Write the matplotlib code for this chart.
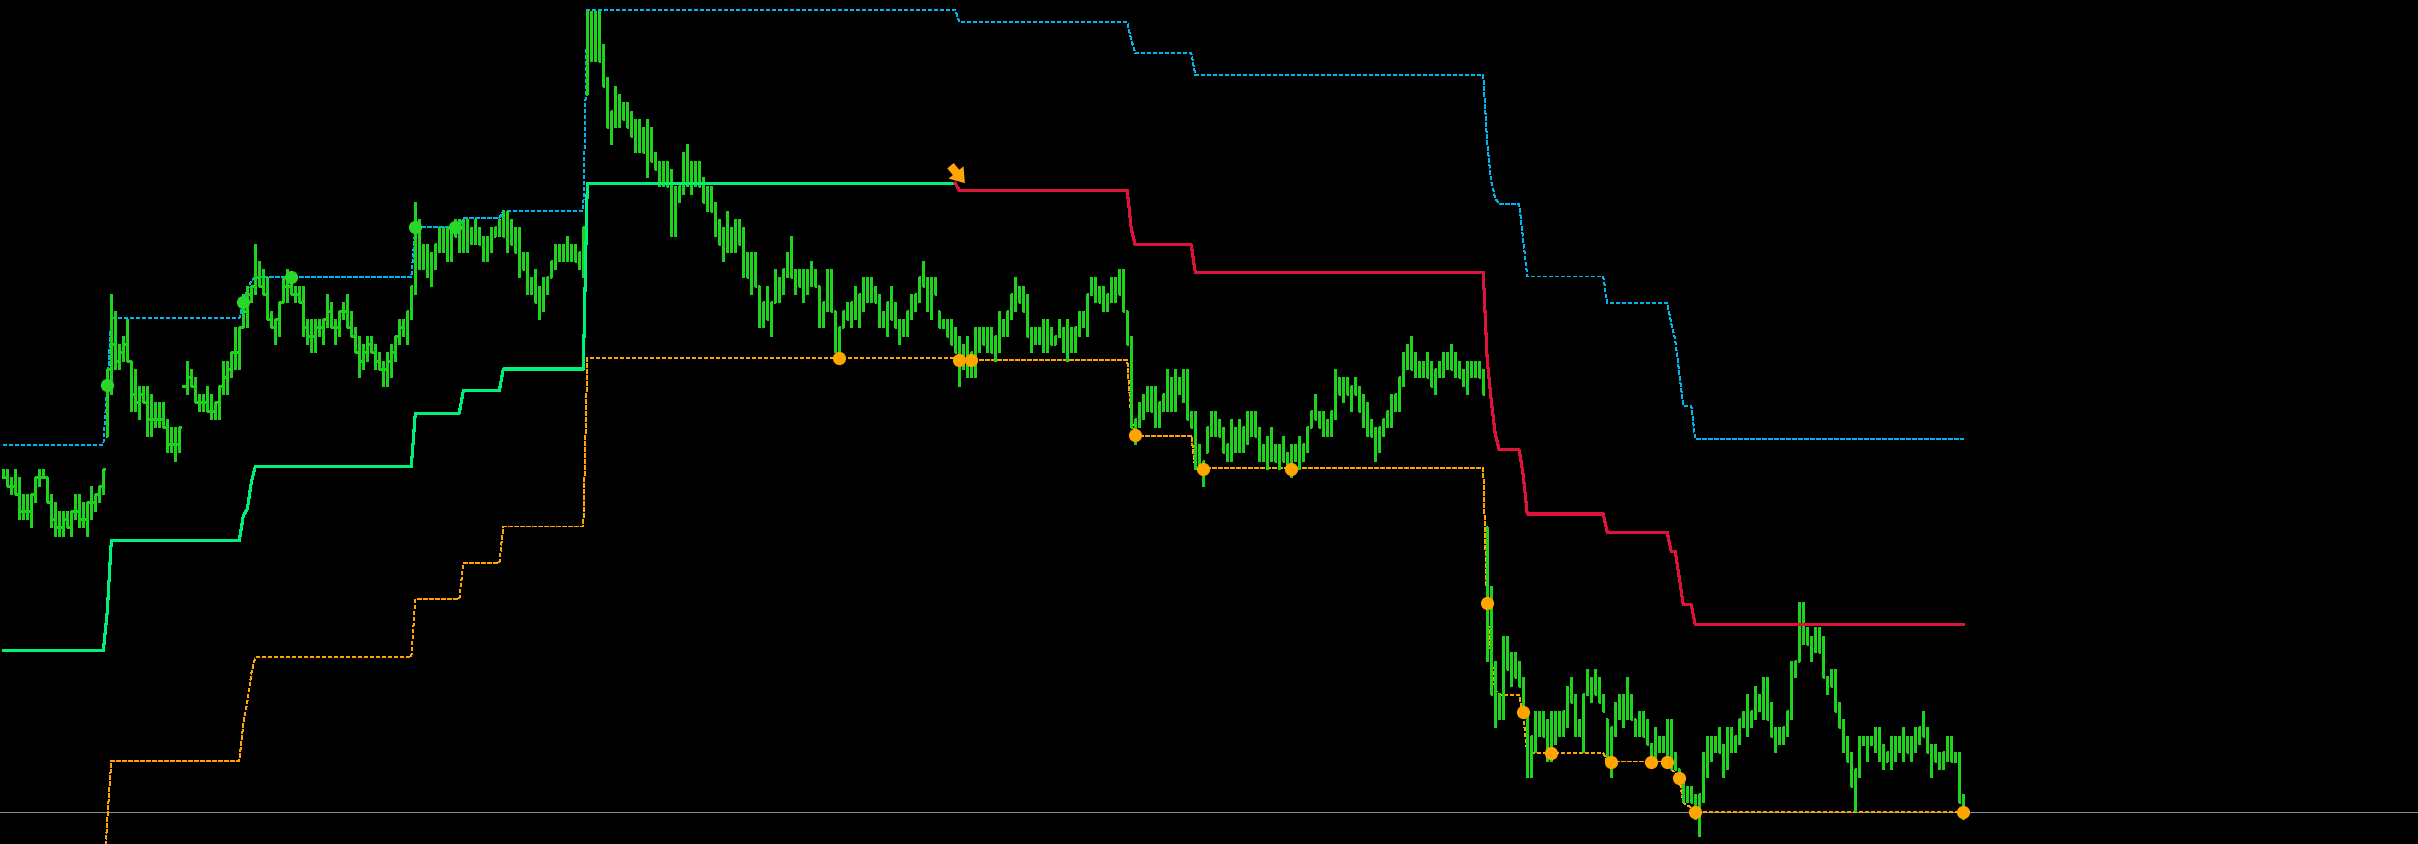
import numpy as np
import matplotlib
matplotlib.use("Agg")
import matplotlib.pyplot as plt

plt.rcParams['lines.scale_dashes'] = False

# price in ticks, one value per bar (491 bars)
highs = [45, 45, 44, 45, 44, 42, 42, 42, 44, 45, 45, 44, 42, 41, 40, 40, 40, 40, 42, 42,
         41, 41, 43, 42, 43, 45, 57, 66, 64, 60, 61, 63, 58, 57, 55, 55, 55, 54, 53, 53,
         53, 51, 50, 50, 50, 55, 58, 57, 56, 54, 54, 55, 54, 53, 55, 58, 58, 59, 62, 62,
         66, 67, 67, 72, 70, 69, 68, 64, 63, 65, 68, 69, 68, 67, 67, 67, 63, 63, 63, 63,
         63, 66, 65, 63, 64, 65, 66, 64, 62, 61, 60, 61, 61, 60, 59, 58, 59, 60, 61, 63,
         63, 64, 67, 77, 75, 72, 72, 71, 72, 74, 74, 74, 74, 75, 75, 75, 75, 74, 75, 74,
         73, 73, 74, 74, 75, 76, 76, 75, 74, 74, 71, 71, 68, 69, 67, 68, 68, 70, 72, 72,
         72, 73, 72, 72, 71, 74, 100, 100, 100, 100, 96, 92, 88, 91, 90, 89, 89, 88, 87, 87,
         86, 87, 86, 83, 82, 82, 82, 81, 79, 79, 83, 84, 82, 82, 82, 80, 79, 79, 77, 75,
         74, 76, 74, 75, 75, 74, 71, 71, 71, 67, 65, 67, 65, 69, 68, 69, 71, 73, 69, 69,
         69, 69, 70, 69, 67, 65, 69, 69, 64, 62, 64, 65, 65, 67, 66, 68, 68, 68, 67, 66,
         64, 65, 67, 65, 63, 63, 64, 66, 66, 68, 70, 68, 68, 68, 64, 63, 63, 63, 62, 61,
         60, 61, 59, 62, 62, 62, 62, 62, 61, 64, 63, 64, 66, 68, 67, 67, 66, 62, 62, 62,
         63, 63, 62, 61, 63, 62, 63, 62, 62, 64, 64, 66, 68, 68, 67, 67, 66, 68, 68, 69,
         69, 64, 61, 51, 53, 54, 55, 55, 55, 53, 54, 57, 56, 57, 56, 57, 57, 52, 52, 48,
         46, 50, 52, 52, 51, 50, 48, 51, 50, 51, 50, 52, 52, 52, 50, 48, 49, 50, 48, 48,
         49, 47, 48, 48, 49, 48, 50, 52, 54, 52, 52, 51, 52, 57, 56, 56, 56, 55, 56, 55,
         54, 53, 51, 50, 50, 51, 52, 54, 54, 56, 59, 60, 61, 59, 58, 58, 59, 58, 57, 58,
         59, 59, 60, 59, 58, 57, 58, 58, 58, 58, 57, 38, 31, 22, 18, 25, 25, 23, 23, 22,
         20, 16, 13, 16, 16, 16, 15, 16, 16, 16, 16, 19, 20, 18, 15, 18, 21, 20, 21, 20,
         18, 15, 14, 17, 18, 18, 20, 18, 15, 16, 16, 15, 12, 14, 13, 13, 15, 15, 11, 9,
         8, 7, 7, 6, 6, 11, 13, 13, 13, 14, 12, 14, 14, 13, 15, 16, 18, 16, 19, 18,
         20, 20, 17, 14, 14, 14, 16, 22, 22, 29, 29, 26, 25, 26, 26, 25, 20, 21, 21, 17,
         15, 13, 11, 9, 13, 13, 13, 13, 14, 14, 12, 11, 13, 13, 13, 14, 13, 13, 14, 14,
         16, 14, 12, 12, 11, 11, 13, 13, 11, 11, 6]
lows = [44, 43, 42, 42, 39, 39, 39, 38, 41, 43, 44, 41, 38, 37, 37, 37, 38, 37, 39, 38,
        38, 37, 39, 40, 41, 42, 49, 54, 57, 57, 58, 58, 52, 52, 51, 53, 49, 49, 50, 50,
        50, 47, 47, 46, 47, 55, 54, 55, 53, 52, 52, 52, 51, 51, 51, 54, 54, 56, 57, 57,
        62, 62, 65, 66, 67, 66, 63, 62, 60, 61, 65, 65, 66, 65, 65, 61, 60, 59, 59, 61,
        60, 62, 62, 60, 61, 63, 62, 61, 59, 56, 57, 58, 59, 57, 57, 55, 55, 56, 58, 60,
        61, 60, 63, 66, 69, 69, 68, 67, 69, 71, 71, 70, 70, 73, 71, 71, 71, 72, 72, 72,
        70, 70, 71, 73, 73, 73, 71, 72, 71, 68, 69, 66, 66, 65, 63, 64, 66, 68, 69, 70,
        70, 70, 70, 70, 69, 68, 90, 94, 94, 94, 91, 86, 84, 86, 86, 87, 86, 85, 83, 83,
        83, 80, 82, 81, 79, 79, 79, 73, 73, 77, 78, 79, 78, 79, 79, 77, 76, 76, 73, 72,
        70, 71, 71, 71, 72, 68, 68, 66, 67, 62, 62, 63, 61, 65, 65, 66, 68, 68, 66, 67,
        65, 66, 67, 67, 62, 62, 64, 64, 59, 58, 62, 63, 62, 63, 62, 64, 65, 65, 65, 62,
        62, 61, 63, 62, 60, 61, 61, 63, 64, 65, 67, 64, 63, 66, 62, 62, 61, 60, 59, 55,
        57, 56, 56, 56, 59, 60, 59, 59, 58, 59, 61, 61, 63, 64, 65, 64, 61, 59, 60, 60,
        59, 59, 60, 60, 61, 59, 58, 59, 59, 61, 62, 61, 66, 65, 65, 64, 64, 65, 65, 66,
        64, 60, 50, 48, 50, 51, 52, 52, 50, 50, 52, 52, 52, 52, 54, 53, 51, 50, 45, 45,
        43, 47, 49, 49, 49, 47, 46, 46, 47, 47, 47, 48, 49, 49, 46, 46, 45, 46, 46, 45,
        46, 45, 44, 46, 45, 46, 47, 50, 51, 50, 49, 49, 49, 51, 54, 53, 54, 52, 54, 52,
        50, 49, 49, 46, 47, 49, 50, 50, 52, 52, 55, 57, 57, 56, 56, 56, 56, 55, 54, 56,
        56, 57, 57, 56, 56, 55, 54, 56, 56, 56, 54, 22, 18, 14, 15, 15, 21, 19, 20, 19,
        16, 8, 8, 11, 13, 13, 10, 10, 12, 13, 13, 14, 17, 13, 13, 11, 18, 17, 18, 17,
        16, 10, 8, 13, 15, 14, 15, 15, 13, 13, 13, 12, 10, 10, 11, 11, 10, 9, 9, 8,
        5, 5, 5, 3, 1, 5, 8, 10, 11, 11, 8, 9, 11, 11, 12, 14, 13, 14, 15, 16,
        15, 15, 13, 11, 12, 12, 13, 15, 20, 22, 24, 24, 22, 23, 23, 20, 18, 19, 16, 14,
        11, 10, 7, 4, 8, 12, 10, 12, 11, 10, 9, 10, 9, 10, 11, 10, 11, 10, 11, 12,
        13, 11, 8, 10, 9, 9, 10, 10, 10, 5, 3]
closes = [44, 43, 43, 42, 40, 40, 40, 42, 44, 44, 44, 41, 39, 38, 38, 39, 38, 40, 40, 39,
          39, 41, 41, 42, 43, 45, 57, 60, 58, 59, 60, 58, 54, 53, 54, 53, 51, 51, 51, 51,
          50, 48, 48, 48, 50, 55, 56, 55, 53, 53, 53, 52, 52, 53, 55, 56, 57, 59, 59, 62,
          64, 66, 67, 68, 67, 66, 63, 62, 63, 65, 67, 67, 66, 66, 65, 62, 61, 61, 62, 62,
          63, 64, 62, 62, 64, 64, 62, 61, 59, 58, 59, 60, 59, 58, 57, 57, 58, 59, 61, 62,
          62, 64, 67, 72, 70, 70, 69, 70, 72, 72, 72, 72, 74, 73, 73, 73, 73, 73, 73, 72,
          71, 72, 73, 74, 74, 73, 73, 72, 71, 70, 69, 67, 67, 65, 66, 67, 68, 70, 71, 71,
          71, 71, 71, 70, 71, 74, 97, 97, 97, 94, 91, 86, 88, 88, 88, 87, 86, 85, 85, 84,
          83, 84, 82, 81, 80, 80, 79, 76, 78, 79, 81, 80, 80, 80, 79, 77, 77, 76, 74, 72,
          73, 72, 73, 73, 72, 69, 68, 69, 67, 63, 65, 63, 65, 66, 67, 69, 70, 68, 68, 67,
          67, 68, 68, 67, 63, 65, 66, 64, 60, 62, 64, 63, 65, 64, 66, 66, 66, 66, 65, 63,
          63, 65, 63, 62, 62, 62, 64, 65, 66, 68, 67, 65, 67, 66, 62, 62, 61, 60, 59, 58,
          58, 57, 59, 60, 61, 60, 60, 59, 61, 62, 62, 64, 66, 66, 65, 64, 61, 61, 61, 61,
          61, 61, 60, 61, 61, 60, 60, 60, 62, 63, 63, 66, 66, 66, 65, 65, 66, 66, 67, 66,
          64, 60, 50, 51, 52, 53, 53, 52, 51, 53, 54, 54, 54, 55, 55, 54, 51, 50, 46, 45,
          46, 50, 50, 50, 49, 47, 48, 48, 49, 48, 50, 50, 50, 49, 47, 47, 48, 47, 46, 47,
          46, 46, 47, 47, 47, 48, 50, 52, 51, 50, 50, 50, 52, 55, 54, 55, 54, 55, 54, 52,
          51, 50, 49, 48, 50, 51, 52, 53, 54, 56, 58, 59, 57, 57, 57, 57, 56, 55, 57, 57,
          58, 58, 57, 57, 56, 56, 57, 57, 57, 56, 54, 24, 18, 16, 18, 23, 21, 21, 20, 19,
          16, 10, 13, 14, 14, 13, 13, 14, 14, 14, 16, 18, 17, 14, 14, 18, 18, 19, 18, 17,
          16, 11, 14, 16, 16, 17, 16, 15, 14, 14, 13, 12, 12, 12, 12, 12, 12, 10, 9, 8,
          6, 6, 5, 4, 6, 10, 11, 12, 12, 11, 11, 12, 12, 13, 15, 15, 15, 16, 17, 17,
          17, 15, 13, 13, 13, 14, 16, 21, 22, 26, 25, 24, 24, 24, 23, 20, 20, 19, 16, 14,
          12, 10, 7, 9, 12, 12, 12, 12, 12, 11, 10, 11, 11, 12, 12, 12, 11, 12, 13, 14,
          13, 11, 11, 10, 10, 11, 11, 10, 10, 5, 4]

# trailing stop line: level and how many bars it holds
mid_levels = [23.2, 28.0, 36.4, 39.4, 40.2, 43.4, 45.3, 51.7, 54.4, 57.0, 79.3, 78.4, 73.8,
              71.9, 68.6, 58.0, 53.2, 49.2, 47.3, 44.2, 39.6, 37.4, 35.1, 32.0, 28.7, 26.3]
mid_runs = [26, 1, 33, 1, 1, 1, 40, 12, 10, 21, 93, 43, 1, 15, 73, 1, 1, 1, 6, 1, 20, 16, 2, 1, 3, 68]
flip_bar = 238  # green up to here, red after

upper_levels = [47.9, 55.1, 63.1, 65.0, 66.5, 67.6, 68.0, 74.0, 75.1, 76.0, 100.1, 98.6, 96.5,
                94.9, 92.3, 84.0, 79.5, 77.5, 76.8, 72.5, 68.1, 64.9, 62.5, 60.5, 56.5, 52.6, 48.6]
upper_runs = [26, 1, 33, 1, 1, 1, 40, 12, 10, 21, 93, 43, 1, 15, 73, 1, 1, 1, 6, 1, 20, 16, 1, 1, 1, 3, 68]

lower_levels = [-5.0, 3.0, 10.0, 14.4, 17.0, 20.5, 22.4, 29.4, 33.7, 38.1, 58.3, 58.1, 51.0, 49.0,
                45.1, 27.8, 22.4, 18.4, 17.9, 15.4, 10.9, 9.9, 9.0, 8.5, 7.9, 5.0, 4.6, 4.4, 3.84]
lower_runs = [26, 1, 33, 1, 1, 1, 40, 12, 10, 21, 93, 43, 1, 15, 73, 1, 1, 1, 6, 1, 20, 16,
              1, 1, 1, 1, 1, 1, 68]

buy_dot_bars = [26, 60, 72, 103, 113]
buy_dot_levels = [55.1, 65.0, 68.0, 74.0, 74.0]
sell_dot_bars = [209, 239, 242, 283, 300, 322, 371, 380, 387, 402, 412, 416, 419, 423, 490]
sell_dot_levels = [58.3, 58.1, 58.1, 49.1, 45.0, 45.0, 28.9, 15.9, 10.9, 9.9, 9.9, 9.9, 7.9, 3.84, 3.84]

arrow_tail = (236.8, 81.4)
arrow_head = (240.4, 79.3)
bid = 3.84

x = np.arange(len(highs))
opens = np.clip(np.r_[closes[0], closes[:-1]], lows, highs)
mid = np.repeat(mid_levels, mid_runs)
upper = np.repeat(upper_levels, upper_runs)
lower = np.repeat(lower_levels, lower_runs)

fig = plt.figure(figsize=(24.18, 8.45), dpi=100, facecolor='black')
ax = fig.add_axes([0, 0, 1, 1])
ax.set_facecolor('black')
ax.set_xlim(-0.83, 603.7)
ax.set_ylim(0, 101.4)
ax.axis('off')

ax.axhline(bid, color='#8a8a8a', lw=0.75, zorder=1)

bar_col = '#1cd21c'
ax.vlines(x, lows, highs, colors=bar_col, lw=0.75, antialiased=False, zorder=3)
ax.hlines(opens, x - 0.3, x, colors=bar_col, lw=0.75, antialiased=False, zorder=3)
ax.hlines(closes, x, x + 0.3, colors=bar_col, lw=0.75, antialiased=False, zorder=3)

ax.plot(x, upper, color='#00b4f0', lw=0.75, dashes=(2.2, 1.5), antialiased=False, zorder=2)
ax.plot(x, lower, color='#ffa500', lw=0.75, dashes=(2.2, 1.5), antialiased=False, zorder=2)

ax.plot(x[:flip_bar + 1], mid[:flip_bar + 1], color='#00f07a', lw=1.5, antialiased=False, zorder=4)
ax.plot(x[flip_bar:], mid[flip_bar:], color='#dc143c', lw=1.5, antialiased=False, zorder=4)

ax.plot(buy_dot_bars, buy_dot_levels, 'o', color='#2bd62b', ms=9.5, mec='none', zorder=5)
ax.plot(sell_dot_bars, sell_dot_levels, 'o', color='#ffa500', ms=9.5, mec='none', zorder=5)

ax.annotate('', xy=arrow_head, xytext=arrow_tail,
            arrowprops=dict(arrowstyle='simple,head_length=0.5,head_width=0.7,tail_width=0.3',
                            color='#ffa500', lw=0, mutation_scale=20,
                            shrinkA=0, shrinkB=0), zorder=6)

fig.savefig('out.png', dpi=100, facecolor='black')
